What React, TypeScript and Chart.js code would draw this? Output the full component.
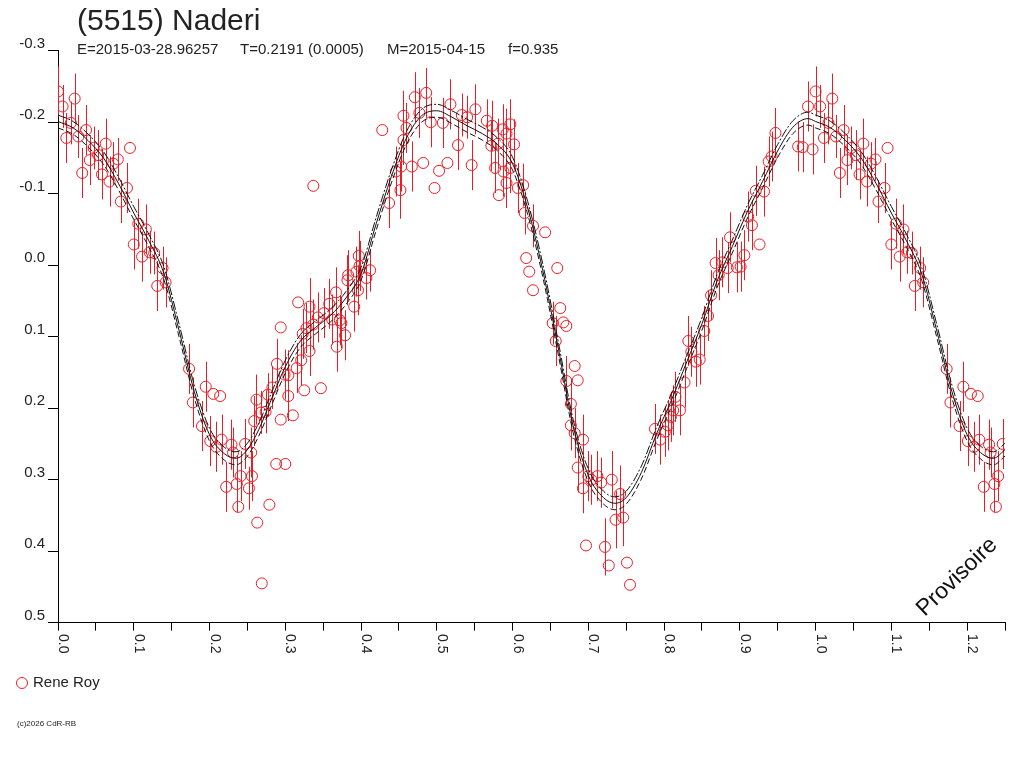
import { useEffect, useRef } from "react";
import { Chart, registerables } from "chart.js";

Chart.register(...registerables);

const title = "(5515) Naderi";
const subtitleParts = ["E=2015-03-28.96257", "T=0.2191 (0.0005)", "M=2015-04-15", "f=0.935"];
const observer = "Rene Roy";
const copyright = "(c)2026 CdR-RB";
const stamp = "Provisoire";

const xTickLabels = ["0.0", "0.1", "0.2", "0.3", "0.4", "0.5", "0.6", "0.7", "0.8", "0.9", "1.0", "1.1", "1.2"];

// [phase, magnitude, error] - error 0 means no bar drawn
const reneRoy: [number, number, number][] = [
    [0.000, -0.243, 0.035], [0.006, -0.222, 0.03], [0.022, -0.233, 0.035], [0.011, -0.178, 0.035],
    [0.017, -0.199, 0.03], [0.027, -0.180, 0.03], [0.037, -0.189, 0.035], [0.032, -0.129, 0.035],
    [0.042, -0.147, 0.035], [0.047, -0.164, 0.03], [0.053, -0.154, 0.035], [0.058, -0.127, 0.035],
    [0.063, -0.170, 0.035], [0.068, -0.117, 0.035], [0.073, -0.142, 0.03], [0.079, -0.148, 0.03],
    [0.095, -0.164, 0], [0.091, -0.108, 0.035], [0.083, -0.089, 0.03], [0.106, -0.058, 0.035],
    [0.100, -0.029, 0.035], [0.116, -0.050, 0.035], [0.111, -0.012, 0.035], [0.121, -0.018, 0.03],
    [0.127, -0.017, 0.03], [0.138, 0.004, 0.03], [0.142, 0.024, 0.035], [0.131, 0.029, 0.035],
    [0.173, 0.145, 0.035], [0.178, 0.192, 0.035], [0.195, 0.170, 0.035], [0.205, 0.180, 0],
    [0.214, 0.183, 0], [0.190, 0.225, 0.035], [0.201, 0.246, 0.035], [0.209, 0.254, 0.035],
    [0.216, 0.244, 0.035], [0.229, 0.251, 0.035], [0.231, 0.262, 0.035], [0.222, 0.310, 0.035],
    [0.236, 0.306, 0.04], [0.241, 0.295, 0.035], [0.238, 0.338, 0], [0.252, 0.312, 0.03],
    [0.256, 0.295, 0.035], [0.247, 0.250, 0.035], [0.255, 0.262, 0.035], [0.259, 0.218, 0.035],
    [0.262, 0.188, 0.035], [0.268, 0.206, 0.03], [0.274, 0.205, 0.03], [0.277, 0.181, 0.03],
    [0.283, 0.171, 0.03], [0.289, 0.138, 0.035], [0.299, 0.153, 0.035], [0.294, 0.087, 0],
    [0.294, 0.216, 0], [0.288, 0.278, 0], [0.300, 0.278, 0], [0.279, 0.335, 0],
    [0.263, 0.360, 0], [0.269, 0.445, 0],
    [0.304, 0.183, 0.035], [0.304, 0.154, 0.035], [0.310, 0.210, 0], [0.315, 0.144, 0.035],
    [0.321, 0.133, 0.035], [0.325, 0.175, 0], [0.347, 0.172, 0], [0.317, 0.052, 0],
    [0.332, 0.120, 0.035], [0.323, 0.096, 0.035], [0.328, 0.088, 0.035], [0.332, 0.058, 0.04],
    [0.337, 0.083, 0.035], [0.343, 0.073, 0.035], [0.351, 0.067, 0.035], [0.358, 0.054, 0.035],
    [0.367, 0.038, 0.035], [0.362, 0.076, 0.035], [0.372, 0.077, 0.035], [0.374, 0.081, 0.035],
    [0.368, 0.114, 0.035], [0.379, 0.098, 0.035], [0.391, 0.058, 0.035], [0.383, 0.014, 0.035],
    [0.382, 0.021, 0.035], [0.394, 0.009, 0.035], [0.397, -0.013, 0.035], [0.398, 0.001, 0.035],
    [0.396, 0.035, 0.035], [0.407, 0.018, 0.03], [0.412, 0.007, 0.03], [0.337, -0.111, 0],
    [0.428, -0.189, 0], [0.437, -0.087, 0.035], [0.446, -0.131, 0.035], [0.452, -0.105, 0.04],
    [0.453, -0.138, 0.035], [0.456, -0.175, 0.035], [0.456, -0.209, 0.035], [0.460, -0.192, 0.035],
    [0.467, -0.138, 0.035], [0.471, -0.235, 0.035], [0.477, -0.213, 0.035], [0.482, -0.143, 0],
    [0.486, -0.241, 0.035], [0.492, -0.200, 0.035], [0.497, -0.108, 0], [0.503, -0.132, 0],
    [0.508, -0.199, 0.035], [0.514, -0.143, 0], [0.518, -0.225, 0.035], [0.528, -0.168, 0.035],
    [0.533, -0.210, 0.03], [0.540, -0.207, 0.03], [0.546, -0.140, 0.035], [0.551, -0.218, 0.035],
    [0.566, -0.202, 0.03], [0.573, -0.195, 0.035], [0.572, -0.167, 0.035], [0.577, -0.136, 0.035],
    [0.582, -0.098, 0], [0.581, -0.170, 0.035], [0.587, -0.190, 0.035], [0.588, -0.131, 0.035],
    [0.592, -0.184, 0.035], [0.597, -0.197, 0.035], [0.602, -0.169, 0.035], [0.597, -0.136, 0.035],
    [0.592, -0.115, 0.035], [0.607, -0.108, 0.035], [0.614, -0.112, 0.03], [0.616, -0.073, 0.03],
    [0.627, -0.055, 0.03], [0.618, -0.010, 0], [0.622, 0.009, 0], [0.627, 0.035, 0],
    [0.643, -0.046, 0], [0.659, 0.004, 0], [0.663, 0.060, 0], [0.653, 0.081, 0.03],
    [0.667, 0.080, 0], [0.671, 0.085, 0], [0.657, 0.106, 0.035], [0.682, 0.141, 0],
    [0.686, 0.161, 0], [0.671, 0.162, 0.035], [0.677, 0.194, 0.035], [0.677, 0.224, 0.035],
    [0.682, 0.235, 0.035], [0.693, 0.244, 0.035], [0.686, 0.283, 0.035], [0.693, 0.312, 0.035],
    [0.700, 0.295, 0.035], [0.704, 0.300, 0.035], [0.712, 0.295, 0.035], [0.717, 0.304, 0.035],
    [0.731, 0.300, 0.04], [0.697, 0.392, 0], [0.722, 0.394, 0.04], [0.727, 0.420, 0],
    [0.742, 0.320, 0.04], [0.736, 0.356, 0.04], [0.746, 0.353, 0.04], [0.751, 0.416, 0],
    [0.755, 0.447, 0], [0.788, 0.229, 0.035], [0.795, 0.244, 0.035], [0.801, 0.233, 0.035],
    [0.805, 0.224, 0.035], [0.809, 0.212, 0.035], [0.815, 0.184, 0.035],
    [0.812, 0.203, 0.035], [0.821, 0.203, 0.035], [0.827, 0.164, 0.035], [0.832, 0.106, 0.035],
    [0.836, 0.121, 0.035], [0.842, 0.135, 0.035], [0.847, 0.132, 0.035], [0.853, 0.092, 0.035],
    [0.858, 0.071, 0.035], [0.862, 0.042, 0.035], [0.868, -0.003, 0.035], [0.872, 0.014, 0.035],
    [0.877, -0.004, 0.035], [0.884, 0.004, 0.035], [0.887, -0.039, 0.035], [0.896, 0.003, 0.035],
    [0.901, 0.002, 0.035], [0.906, -0.014, 0.035], [0.911, -0.068, 0.035], [0.916, -0.056, 0.035],
    [0.926, -0.029, 0], [0.921, -0.104, 0.035], [0.932, -0.103, 0.035], [0.938, -0.145, 0.035],
    [0.942, -0.152, 0.035], [0.947, -0.185, 0.035], [0.977, -0.166, 0.035], [0.983, -0.165, 0.035],
    [0.996, -0.162, 0.035], [0.990, -0.222, 0.035],
];

// Fourier fit and its +/- sigma envelope
const fitPhase = [0, 0.02, 0.04, 0.06, 0.08, 0.10, 0.12, 0.14, 0.16, 0.18, 0.20, 0.22, 0.235, 0.25, 0.265,
    0.28, 0.30, 0.32, 0.34, 0.36, 0.38, 0.40, 0.42, 0.44, 0.46, 0.48, 0.50, 0.52, 0.54, 0.56, 0.58, 0.60,
    0.62, 0.64, 0.66, 0.68, 0.70, 0.72, 0.735, 0.75, 0.77, 0.79, 0.81, 0.83, 0.85, 0.87, 0.89, 0.91, 0.93,
    0.95, 0.97, 0.99];
const fitMag = [-0.201, -0.192, -0.174, -0.150, -0.114, -0.073, -0.034, 0.012, 0.092, 0.177, 0.237, 0.264,
    0.270, 0.258, 0.230, 0.192, 0.142, 0.106, 0.087, 0.070, 0.046, 0.012, -0.058, -0.124, -0.178, -0.209,
    -0.216, -0.207, -0.195, -0.184, -0.169, -0.142, -0.080, 0.008, 0.114, 0.225, 0.294, 0.325, 0.333, 0.325,
    0.290, 0.236, 0.188, 0.135, 0.082, 0.022, -0.026, -0.075, -0.117, -0.160, -0.193, -0.205];
const fitUpper = [-0.210, -0.201, -0.183, -0.159, -0.123, -0.082, -0.043, 0.003, 0.083, 0.168, 0.228, 0.255,
    0.261, 0.249, 0.221, 0.183, 0.133, 0.097, 0.078, 0.061, 0.037, 0.003, -0.067, -0.133, -0.187, -0.218,
    -0.225, -0.216, -0.204, -0.193, -0.178, -0.151, -0.089, -0.001, 0.105, 0.216, 0.285, 0.316, 0.324, 0.316,
    0.281, 0.227, 0.179, 0.126, 0.073, 0.013, -0.035, -0.084, -0.126, -0.169, -0.202, -0.214];
const fitLower = [-0.192, -0.183, -0.165, -0.141, -0.105, -0.064, -0.025, 0.021, 0.101, 0.186, 0.246, 0.273,
    0.279, 0.267, 0.239, 0.201, 0.151, 0.115, 0.096, 0.079, 0.055, 0.021, -0.049, -0.115, -0.169, -0.200,
    -0.207, -0.198, -0.186, -0.175, -0.160, -0.133, -0.071, 0.017, 0.123, 0.234, 0.303, 0.334, 0.342, 0.334,
    0.299, 0.245, 0.197, 0.144, 0.091, 0.031, -0.017, -0.066, -0.108, -0.151, -0.184, -0.196];

const RED = "rgb(236,28,36)";
const FONT = '"Liberation Sans", Arial, sans-serif';

// the plot shows phase 0..1.25, so the first quarter is repeated after 1.0
const fitSeries = (mags: number[]) => {
    const d = fitPhase.map((p, i) => ({ x: p, y: mags[i] }));
    fitPhase.forEach((p, i) => {
        if (p <= 0.25) d.push({ x: p + 1, y: mags[i] });
    });
    return d;
};

const obsPoints = reneRoy.flatMap(([p, m, e]) =>
    p <= 0.25 ? [{ x: p, y: m, err: e }, { x: p + 1, y: m, err: e }] : [{ x: p, y: m, err: e }]
);

const decorPlugin = {
    id: "decor",
    beforeDatasetsDraw(chart: any) {
        const { ctx, chartArea, scales } = chart;
        const ds = chart.data.datasets[3];
        ctx.save();
        ctx.beginPath();
        ctx.rect(chartArea.left, chartArea.top, chartArea.right - chartArea.left, chartArea.bottom - chartArea.top);
        ctx.clip();
        ctx.strokeStyle = RED;
        ctx.lineWidth = 1;
        ds.data.forEach((d: any) => {
            if (!d.err) return;
            const px = Math.round(scales.x.getPixelForValue(d.x)) + 0.5;
            ctx.beginPath();
            ctx.moveTo(px, scales.y.getPixelForValue(d.y - d.err));
            ctx.lineTo(px, scales.y.getPixelForValue(d.y + d.err));
            ctx.stroke();
        });
        ctx.restore();
    },
    afterDraw(chart: any) {
        const { ctx, scales } = chart;
        ctx.save();
        ctx.fillStyle = "#222";
        ctx.textAlign = "left";
        ctx.textBaseline = "alphabetic";
        ctx.font = `30px ${FONT}`;
        ctx.fillText(title, 77, 30);

        ctx.font = `15px ${FONT}`;
        const subX = [77, 240, 387, 508];
        subtitleParts.forEach((s, i) => ctx.fillText(s, subX[i], 54));

        // rotated x tick labels, reading downwards
        ctx.font = `14px ${FONT}`;
        xTickLabels.forEach((lab) => {
            const px = scales.x.getPixelForValue(parseFloat(lab));
            ctx.save();
            ctx.translate(px + 1, 634);
            ctx.rotate(Math.PI / 2);
            ctx.textBaseline = "alphabetic";
            ctx.fillText(lab, 0, 0);
            ctx.restore();
        });

        // legend
        ctx.strokeStyle = RED;
        ctx.lineWidth = 1;
        ctx.beginPath();
        ctx.arc(22, 683, 5.5, 0, Math.PI * 2);
        ctx.stroke();
        ctx.font = `15px ${FONT}`;
        ctx.textBaseline = "middle";
        ctx.fillText(observer, 33, 683);

        ctx.font = `8px ${FONT}`;
        ctx.fillText(copyright, 17, 724);

        ctx.save();
        ctx.fillStyle = "#111";
        ctx.translate(957, 577);
        ctx.rotate(-44 * Math.PI / 180);
        ctx.font = `23px ${FONT}`;
        ctx.textAlign = "center";
        ctx.fillText(stamp, 0, 0);
        ctx.restore();

        ctx.restore();
    },
};

const App = () => {
    const chartRef = useRef<HTMLCanvasElement>(null);

    useEffect(() => {
        let chartInstance: Chart | undefined;
        if (chartRef.current) {
            const curve = (data: any, dash: number[]) => ({
                data,
                showLine: true,
                borderColor: "#111",
                borderWidth: 1,
                borderDash: dash,
                pointRadius: 0,
                cubicInterpolationMode: "monotone" as const,
            });
            chartInstance = new Chart(chartRef.current, {
                type: "scatter",
                data: {
                    datasets: [
                        curve(fitSeries(fitMag), []),
                        curve(fitSeries(fitUpper), [9, 2, 2, 2]),
                        curve(fitSeries(fitLower), [6, 3]),
                        {
                            label: observer,
                            data: obsPoints as any,
                            pointStyle: "circle",
                            pointRadius: 5.5,
                            pointBorderWidth: 1,
                            pointBorderColor: RED,
                            pointBackgroundColor: "rgba(0,0,0,0)",
                            showLine: false,
                        },
                    ],
                },
                options: {
                    animation: false,
                    responsive: false,
                    devicePixelRatio: 1,
                    layout: { padding: { left: 0, top: 50.7, right: 19, bottom: 137.3 } },
                    plugins: { legend: { display: false }, tooltip: { enabled: false } },
                    scales: {
                        x: {
                            type: "linear",
                            min: 0,
                            max: 1.25,
                            border: { display: true, color: "#000", width: 1 },
                            grid: { drawOnChartArea: false, drawTicks: true, tickLength: 8, color: "#000" },
                            ticks: { stepSize: 0.05, autoSkip: false, callback: () => "", maxRotation: 0 },
                            afterFit: (s: any) => { s.height = 8; },
                        },
                        y: {
                            type: "linear",
                            min: -0.3,
                            max: 0.5,
                            reverse: true,
                            border: { display: true, color: "#000", width: 1 },
                            grid: { drawOnChartArea: false, drawTicks: true, tickLength: 10, color: "#000" },
                            ticks: {
                                stepSize: 0.1,
                                color: "#222",
                                padding: 3,
                                labelOffset: -7,
                                font: { family: FONT, size: 15 },
                                callback: (v: any) => (Math.abs(Number(v)) < 1e-9 ? "0.0" : Number(v).toFixed(1)),
                            },
                            afterFit: (s: any) => { s.width = 58; },
                        },
                    },
                },
                plugins: [decorPlugin],
            });
        }

        return () => {
            if (chartInstance) {
                chartInstance.destroy();
            }
        };
    }, []);

    return (
        <div style={{ position: "absolute", left: 0, top: 0, width: 1024, height: 768, background: "#fff" }}>
            <canvas ref={chartRef} width={1024} height={768} />
        </div>
    );
};

export default App;
